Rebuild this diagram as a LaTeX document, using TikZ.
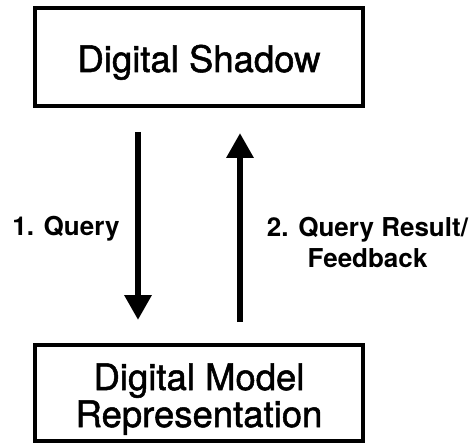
\documentclass[tikz,border=0pt]{standalone}
\usepackage{fontspec}
\setmainfont{TeX Gyre Heros}
\newfontfamily\boxfont{TeX Gyre Heros}[FakeBold=1.4]
\usetikzlibrary{arrows.meta}
\begin{document}
\begin{tikzpicture}[x=1pt,y=-1pt,
  frame/.style={draw, line width=4pt, minimum width=328pt, minimum height=98pt, inner sep=0pt},
  boxtext/.style={font=\boxfont\fontsize{36.5}{37}\selectfont, align=center, inner sep=0pt},
  flow/.style={line width=6.5pt, -{Triangle[width=26pt,length=25pt]}},
  lbl/.style={font=\bfseries\fontsize{26}{31}\selectfont, align=center, inner sep=0pt}]
\useasboundingbox (0,0) rectangle (472,444);
% the two boxes
\node[frame] (shadow) at (199,57) {};
\node[frame, minimum height=96pt] (model) at (199,393) {};
\node[boxtext, anchor=base] (shadowtext) at (199,72) {Digital Shadow};
\node[boxtext, anchor=base] (modeltext) at (199,427) {Digital Model\\Representation};
% query and feedback arrows
\coordinate (qx) at (138,0);
\coordinate (rx) at (240,0);
\draw[flow, shorten <=24pt, shorten >=23pt] (shadow.south -| qx) -- (model.north -| qx);
\draw[flow, shorten <=21pt, shorten >=25pt] (model.north -| rx) -- (shadow.south -| rx);
% arrow labels
\node[lbl, anchor=base] (querylbl) at (66,235) {1. Query};
\node[lbl, anchor=base] (resultlbl) at (367.5,267) {2. Query Result/\\Feedback};
\end{tikzpicture}
\end{document}
